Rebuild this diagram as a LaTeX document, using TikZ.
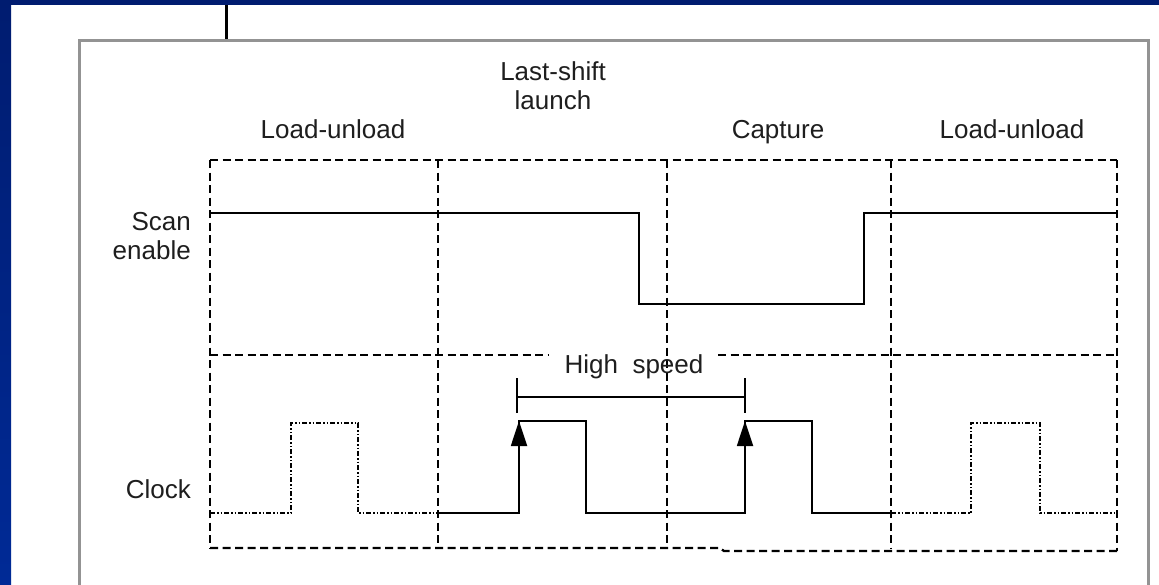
\documentclass[tikz,border=0pt]{standalone}
\usepackage{fontspec}
\setmainfont{Liberation Sans}
\usepackage{tikz}
\usetikzlibrary{arrows.meta}
\definecolor{slideblue}{RGB}{0,28,112}
\definecolor{slideblue2}{RGB}{0,42,150}
\definecolor{inktext}{RGB}{30,30,30}

\begin{document}
\begin{tikzpicture}[x=1pt, y=-1pt, every node/.style={font=\fontsize{26}{29}\selectfont, text=inktext, inner sep=0pt}, >={Triangle[length=25pt,width=16pt]}]
	\useasboundingbox (0,0) rectangle (1159,584);
	\fill[white] (0,0) rectangle (1159,584);
	\shade[top color=slideblue, bottom color=slideblue2] (0,0) rectangle (11,584);
	\fill[slideblue] (0,0) rectangle (1159,5);
	\draw[line width=3pt] (226,5) -- (226,40);
	\draw[gray!85, line width=3pt] (79,590) -- (79,40) -- (1148,40) -- (1148,590);
	\begin{scope}[line width=2.3pt, dash pattern=on 8pt off 4.5pt]
		\draw (210,160) -- (1117,160);
		\draw (210,548) -- (720,548) -- (724,551) -- (1117,551);
		\foreach \x in {210,438,667,891} {\draw (\x,160) -- (\x,548);}
		\draw (1117,160) -- (1117,551);
		\draw (210,355) -- (548,355);
		\draw (718,355) -- (1117,355);
	\end{scope}
	\draw[line width=1.8pt] (210,213) -- (639,213) -- (639,304) -- (864,304) -- (864,213) -- (1117,213);
	\draw[line width=1.8pt] (438,513) -- (519,513) -- (519,421) -- (586,421) -- (586,513) -- (745,513) -- (745,421) -- (812,421) -- (812,513) -- (891,513);
	\foreach \x in {519,745} {\draw[->, line width=1.8pt] (\x,513) -- (\x,421);}
	\begin{scope}[line width=1.6pt, dash pattern=on 5pt off 2pt on 1.5pt off 2pt on 1.5pt off 2pt]
		\draw (210,513) -- (291,513) -- (291,423) -- (358,423) -- (358,513) -- (438,513);
		\draw (891,513) -- (971,513) -- (971,423) -- (1040,423) -- (1040,513) -- (1117,513);
	\end{scope}
	\draw[line width=1.8pt] (517,397) -- (745,397);
	\foreach \x in {517,745} {\draw[line width=1.8pt] (\x,378) -- (\x,413);}
	\node[anchor=base] (lu1) at (333,138) {Load-unload};
	\node[anchor=base, align=center] (launch) at (553,109) {Last-shift\\launch};
	\node[anchor=base] (capture) at (778,138) {Capture};
	\node[anchor=base] (lu2) at (1012,138) {Load-unload};
	\node[anchor=base east, align=right] (scan) at (191,259) {Scan\\enable};
	\node[anchor=base east] (clock) at (191,498) {Clock};
	\node[anchor=base] (speed) at (634,373) {High\ \ speed};
\end{tikzpicture}
\end{document}
